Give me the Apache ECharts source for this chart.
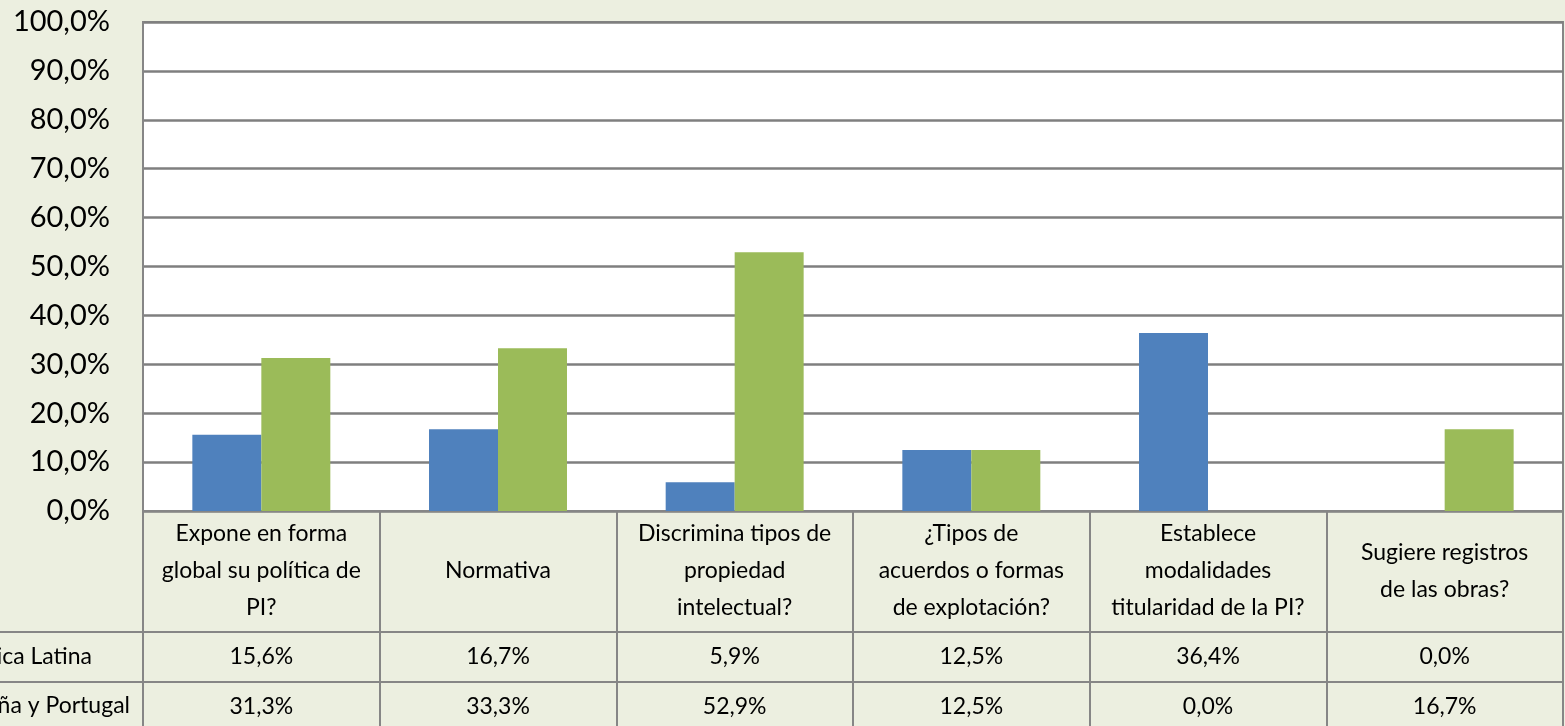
<!DOCTYPE html>
<html lang="es">
<head>
    <meta charset="UTF-8">
    <title>Propiedad intelectual</title>
</head>
<style>
    html, body { margin: 0; padding: 0; background: #ECEFE0; }
    #main { width: 1565px; height: 726px; }
</style>
<body>
<div id="main"></div>
</body>
<script src="https://cdn.jsdelivr.net/npm/echarts@6/dist/echarts.min.js"></script>
<script>
    // categorias (con los saltos de linea como en la tabla)
    var categorias = [
        'Expone en forma\nglobal su política de\nPI?',
        'Normativa',
        'Discrimina tipos de\npropiedad\nintelectual?',
        '¿Tipos de\nacuerdos o formas\nde explotación?',
        'Establece\nmodalidades\ntitularidad de la PI?',
        'Sugiere registros\nde las obras?'
    ];
    var nombres = ['América Latina', 'España y Portugal'];
    var americaLatina = [15.6, 16.7, 5.9, 12.5, 36.4, 0.0];
    var espanaPortugal = [31.3, 33.3, 52.9, 12.5, 0.0, 16.7];
    var ticksY = [0, 10, 20, 30, 40, 50, 60, 70, 80, 90, 100];

    var fuente = 'Lato';
    var gris = '#868686';
    var tamTabla = 23;

    function pct(v) {
        return v.toFixed(1).replace('.', ',') + '%';
    }

    var myChart = echarts.init(document.getElementById('main'));

    // ejes x extra solo para las filas de la tabla
    function filaTabla(datos, offset) {
        return {
            type: 'category',
            data: categorias,
            position: 'bottom',
            offset: offset,
            axisLine: { show: true, lineStyle: { color: gris, width: 2 } },
            axisTick: { show: false },
            axisLabel: {
                interval: 0,
                margin: 25,
                verticalAlign: 'middle',
                fontFamily: fuente,
                fontSize: tamTabla,
                color: '#000',
                formatter: function (v, i) { return pct(datos[i]); }
            }
        };
    }

    var option = {
        backgroundColor: '#ECEFE0',
        animation: false,
        grid: {
            left: 143, right: 2, top: 22, bottom: 215,
            show: true, backgroundColor: '#fff',
            borderColor: gris, borderWidth: 2
        },
        xAxis: [
            {
                type: 'category',
                data: categorias,
                axisLine: { show: true, lineStyle: { color: gris, width: 2 } },
                axisTick: { show: true, interval: 0, length: 230, lineStyle: { color: gris, width: 2 } },
                axisLabel: {
                    interval: 0,
                    margin: 60,
                    verticalAlign: 'middle',
                    align: 'center',
                    lineHeight: 37,
                    fontFamily: fuente,
                    fontSize: tamTabla,
                    color: '#000'
                }
            },
            filaTabla(americaLatina, 121),
            filaTabla(espanaPortugal, 171)
        ],
        yAxis: {
            type: 'value',
            min: ticksY[0],
            max: ticksY[ticksY.length - 1],
            interval: ticksY[1] - ticksY[0],
            axisLine: { show: true, lineStyle: { color: gris, width: 2 } },
            axisTick: { show: false },
            splitLine: { lineStyle: { color: '#7f7f7f', width: 2.5 } },
            axisLabel: {
                margin: 33,
                fontFamily: fuente,
                fontSize: 29,
                color: '#000',
                formatter: function (v) { return pct(v); }
            }
        },
        series: [
            {
                name: nombres[0],
                type: 'bar',
                data: americaLatina,
                barGap: 0,
                barCategoryGap: '41.7%',
                itemStyle: { color: '#4F81BD' }
            },
            {
                name: nombres[1],
                type: 'bar',
                data: espanaPortugal,
                barGap: 0,
                barCategoryGap: '41.7%',
                itemStyle: { color: '#9BBB59' }
            }
        ],
        graphic: [
            { type: 'line', shape: { x1: 0, y1: 632, x2: 143, y2: 632 }, style: { stroke: gris, lineWidth: 2 } },
            { type: 'line', shape: { x1: 0, y1: 682, x2: 143, y2: 682 }, style: { stroke: gris, lineWidth: 2 } },
            { type: 'text', x: 92, y: 657, style: { text: nombres[0], textAlign: 'right', textVerticalAlign: 'middle', font: tamTabla + 'px Lato', fill: '#000' } },
            { type: 'text', x: 130, y: 706, style: { text: nombres[1], textAlign: 'right', textVerticalAlign: 'middle', font: tamTabla + 'px Lato', fill: '#000' } }
        ]
    };

    myChart.setOption(option);
</script>
</html>
